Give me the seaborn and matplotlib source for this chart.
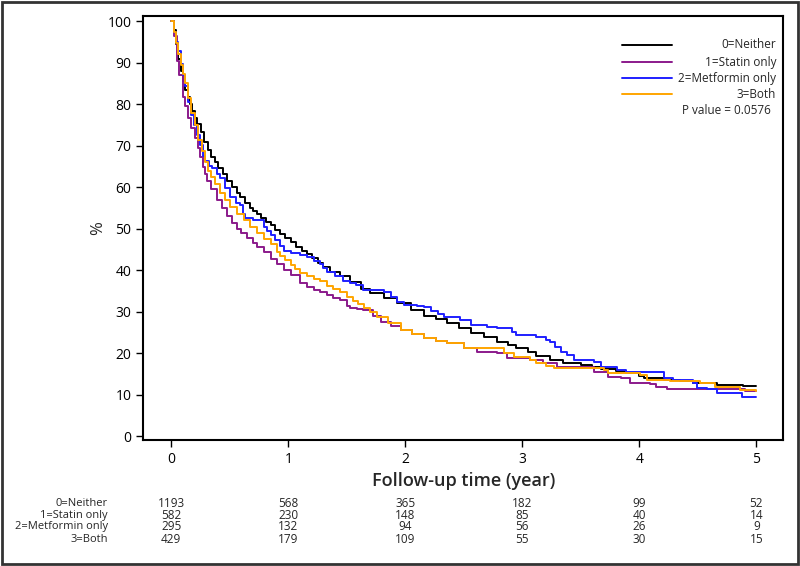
import matplotlib
matplotlib.use("Agg")
import numpy as np
import pandas as pd
import matplotlib.pyplot as plt
import seaborn as sns
from matplotlib.patches import Rectangle
from matplotlib.transforms import blended_transform_factory

# group labels and colours
groups = ["0=Neither", "1=Statin only", "2=Metformin only", "3=Both"]
colors = ["#000000", "#8B1A8B", "#1F1FFF", "#FFA500"]

# survival curves (years, %)
t_neither = [0, 0.02, 0.04, 0.06, 0.08, 0.10, 0.12, 0.14, 0.16, 0.18, 0.20, 0.22, 0.25, 0.28,
             0.31, 0.34, 0.37, 0.40, 0.44, 0.48, 0.52, 0.56, 0.59, 0.63, 0.67, 0.70, 0.73, 0.77,
             0.81, 0.85, 0.89, 0.93, 0.97, 1.02, 1.07, 1.12, 1.16, 1.20, 1.25, 1.30, 1.36, 1.44,
             1.53, 1.62, 1.70, 1.82, 1.93, 2.05, 2.16, 2.26, 2.36, 2.46, 2.56, 2.67, 2.78, 2.88,
             2.95, 3.05, 3.12, 3.24, 3.35, 3.50, 3.60, 3.67, 3.80, 3.89, 4.00, 4.04, 4.21, 4.35,
             4.46, 4.66, 4.89, 5.0]
s_neither = [100, 98, 94.5, 91, 88, 85.5, 83.5, 81.8, 80, 78.3, 76.7, 75.2, 73.3, 71,
             69, 67.2, 66, 64.6, 63.2, 61.5, 60, 58.6, 57.7, 56.3, 55, 54.2, 53.5, 52.5,
             51.6, 50.8, 49.8, 48.8, 47.8, 46.8, 45.6, 44.6, 43.8, 43.0, 41.8, 40.8, 39.7, 38.6,
             37.1, 35.6, 34.5, 33.2, 32.0, 30.4, 29.0, 28.2, 27.3, 26.0, 24.8, 23.8, 22.8, 22.0,
             21.3, 20.2, 19.3, 18.3, 17.6, 17.1, 16.6, 16.3, 15.8, 15.3, 14.6, 14.0, 13.6, 13.2,
             12.8, 12.4, 12.1, 12.1]

t_statin = [0, 0.02, 0.045, 0.07, 0.10, 0.12, 0.145, 0.17, 0.20, 0.225, 0.245, 0.27, 0.29, 0.305,
            0.34, 0.39, 0.43, 0.475, 0.52, 0.56, 0.60, 0.65, 0.70, 0.73, 0.79, 0.85, 0.90, 0.96,
            1.02, 1.10, 1.16, 1.22, 1.27, 1.33, 1.38, 1.44, 1.50, 1.53, 1.59, 1.64, 1.72, 1.79,
            1.88, 1.96, 2.06, 2.16, 2.26, 2.36, 2.50, 2.61, 2.78, 2.87, 3.07, 3.18, 3.30, 3.50,
            3.61, 3.73, 3.84, 3.92, 4.09, 4.14, 4.24, 4.89, 4.90, 5.0]
s_statin = [100, 96.5, 90.4, 87, 81.8, 79.5, 76.7, 74.3, 71.9, 69.5, 67.3, 65, 63.2, 61.5,
            59.5, 57, 55, 53, 51.5, 49.9, 48.9, 47.8, 46.5, 45.7, 44.5, 42.8, 41.4, 40.1,
            38.8, 37.0, 36.0, 35.3, 34.8, 34.0, 33.4, 32.8, 31.5, 30.9, 30.6, 30.4, 29, 27.6,
            26.5, 25.6, 24.6, 23.6, 23.0, 22.4, 21.2, 20.4, 20.0, 18.8, 18.4, 17.6, 16.8, 16.7,
            15.6, 14.4, 14.0, 12.8, 12.6, 11.8, 11.3, 11.3, 10.9, 10.9]

t_metformin = [0, 0.02, 0.04, 0.06, 0.08, 0.10, 0.12, 0.145, 0.17, 0.19, 0.22, 0.245, 0.27, 0.29,
               0.32, 0.35, 0.39, 0.42, 0.46, 0.50, 0.55, 0.59, 0.61, 0.63, 0.70, 0.76, 0.79, 0.82,
               0.85, 0.89, 0.93, 0.96, 1.02, 1.10, 1.16, 1.22, 1.27, 1.30, 1.33, 1.40, 1.47, 1.53,
               1.58, 1.64, 1.82, 1.88, 1.93, 1.99, 2.10, 2.16, 2.22, 2.28, 2.33, 2.47, 2.56, 2.70,
               2.78, 2.91, 2.95, 3.12, 3.20, 3.24, 3.28, 3.33, 3.38, 3.44, 3.55, 3.61, 3.67, 3.81,
               3.89, 4.21, 4.29, 4.46, 4.49, 4.58, 4.66, 4.88, 5.0]
s_metformin = [100, 97.5, 95, 92.8, 89.8, 87, 84.3, 80.5, 77.5, 75.1, 72.5, 70.3, 67.5, 66.3,
               65.2, 64.6, 63.2, 62.2, 59.8, 57.7, 56.3, 55.7, 53.5, 52.5, 52.2, 52.0, 50.5, 49.5,
               48.4, 47.2, 45.8, 44.6, 44.1, 43.6, 43.2, 42.3, 41.6, 40.5, 39.5, 38.6, 37.4, 36.9,
               36.4, 35.3, 34.8, 33.5, 32.4, 31.6, 31.3, 31.2, 30.2, 29.5, 28.8, 28.0, 26.8, 26.4,
               26.0, 25.2, 24.4, 24.0, 23.3, 22.8, 21.5, 20.4, 19.6, 18.4, 18.3, 18.0, 16.8, 16.0,
               15.5, 14.0, 13.6, 12.8, 11.6, 11.3, 10.5, 9.5, 9.5]

t_both = [0, 0.02, 0.04, 0.06, 0.08, 0.10, 0.12, 0.145, 0.17, 0.20, 0.23, 0.26, 0.29, 0.316,
          0.34, 0.37, 0.42, 0.46, 0.50, 0.56, 0.62, 0.67, 0.73, 0.79, 0.85, 0.90, 0.93, 0.97,
          1.02, 1.06, 1.10, 1.16, 1.22, 1.27, 1.33, 1.38, 1.44, 1.50, 1.55, 1.60, 1.65, 1.70,
          1.76, 1.85, 1.96, 2.06, 2.16, 2.26, 2.36, 2.50, 2.73, 2.84, 2.93, 3.07, 3.12, 3.20,
          3.27, 3.55, 3.70, 3.73, 3.89, 4.01, 4.07, 4.26, 4.52, 4.65, 4.86, 5.0]
s_both = [100, 97.5, 94.8, 92, 89.5, 87.3, 85, 81.5, 78, 75, 71.5, 68.7, 66, 64,
          62.5, 60.8, 58.6, 57, 55.3, 53.5, 52, 50.5, 48.9, 47.5, 46.3, 44.5, 43.4, 42.4,
          41.2, 40.2, 39.3, 38.5, 37.9, 37.3, 36.2, 35.4, 34.7, 33.5, 32.5, 31.8, 30.9, 30.0,
          28.8, 27.2, 25.6, 24.6, 23.6, 23.0, 22.4, 21.2, 21.2, 20.0, 19.2, 18.4, 17.6, 17.0,
          16.5, 16.4, 16.0, 15.3, 15.3, 14.8, 13.6, 13.2, 12.8, 11.8, 11.2, 10.9]

# numbers at risk
risk_times = [0, 1, 2, 3, 4, 5]
risk_neither = [1193, 568, 365, 182, 99, 52]
risk_statin = [582, 230, 148, 85, 40, 14]
risk_metformin = [295, 132, 94, 56, 26, 9]
risk_both = [429, 179, 109, 55, 30, 15]

p_text = "P value = 0.0576"

curves = [(t_neither, s_neither), (t_statin, s_statin), (t_metformin, s_metformin), (t_both, s_both)]
frames = []
for g, (t, s) in zip(groups, curves):
    frames.append(pd.DataFrame({"time": t, "pct": s, "group": g}))
df = pd.concat(frames, ignore_index=True)

sns.set_theme(style="ticks")
plt.rcParams["font.family"] = ["Open Sans", "DejaVu Sans"]

fig = plt.figure(figsize=(8, 5.66), dpi=100)
ax = fig.add_axes([0.179, 0.2226, 0.8, 0.7494])

sns.lineplot(data=df, x="time", y="pct", hue="group", hue_order=groups,
             palette=dict(zip(groups, colors)), estimator=None, drawstyle="steps-post",
             linewidth=1.4, legend=False, ax=ax)

ax.set_xlim(-0.24, 5.23)
ax.set_ylim(-0.9, 101.3)
ax.set_xticks(risk_times)
ax.set_yticks(range(0, 101, 10))
ax.tick_params(axis="both", direction="out", length=5, width=1, labelsize=10, colors="black")
for sp in ax.spines.values():
    sp.set_visible(True)
    sp.set_linewidth(1.5)
    sp.set_color("black")

ax.set_xlabel("Follow-up time (year)", fontsize=13, fontweight="semibold")
ax.xaxis.label.set_va("center")
ax.xaxis.set_label_coords(0.5, -0.097)
ax.set_ylabel("%", fontsize=12)
ax.yaxis.label.set_va("center")
ax.yaxis.set_label_coords(-0.07, 0.5)

# legend drawn by hand so the labels sit right aligned like the original
leg_rows = [0.932, 0.891, 0.853, 0.815]
for g, c, yy in zip(groups, colors, leg_rows):
    ax.plot([0.748, 0.827], [yy, yy], color=c, lw=1.4, transform=ax.transAxes)
    ax.text(0.989, yy, g, ha="right", va="center", fontsize=8.5, transform=ax.transAxes)
ax.text(0.842, 0.776, p_text, ha="left", va="center", fontsize=8.5, transform=ax.transAxes)

# numbers-at-risk table under the axis
trans = blended_transform_factory(ax.transData, fig.transFigure)
row_y = [0.1108, 0.0901, 0.0694, 0.0477]
risk_rows = [risk_neither, risk_statin, risk_metformin, risk_both]
narrow = ["Liberation Sans Narrow", "Open Sans", "DejaVu Sans"]
for g, counts, yy in zip(groups, risk_rows, row_y):
    fig.text(0.135, yy, g, ha="right", va="center", fontsize=8, family=narrow)
    for tt, n in zip(risk_times, counts):
        ax.text(tt, yy, str(n), ha="center", va="center", fontsize=8.5, family=narrow,
                transform=trans, clip_on=False)

fig.patches.append(Rectangle((0.002, 0.003), 0.996, 0.994, transform=fig.transFigure,
                             fill=False, edgecolor="#333333", linewidth=2))

fig.savefig("out.png", dpi=100)
